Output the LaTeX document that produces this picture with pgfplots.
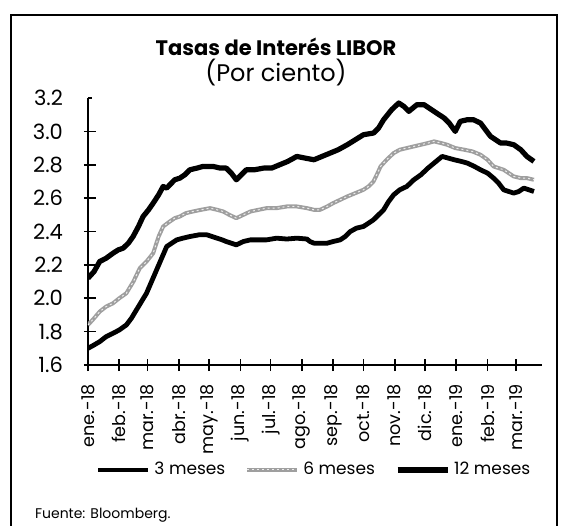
\documentclass[border=0pt]{standalone}
\usepackage{fontspec}
\setmainfont{Poppins}
\usepackage{pgfplots}
\pgfplotsset{compat=1.18}
\pgfplotstableread{
d v
0 2.12
6 2.16
11.6 2.22
18 2.24
24.8 2.27
30 2.29
34.8 2.30
40 2.33
44.7 2.37
50 2.43
54.6 2.49
60 2.53
64.6 2.57
70 2.62
74.5 2.67
78 2.66
81.1 2.68
86 2.71
91.1 2.72
96 2.74
101 2.77
108 2.78
114 2.79
124 2.79
131 2.78
137 2.78
142 2.75
147 2.71
152 2.74
157 2.77
165 2.77
174 2.78
182 2.78
190 2.80
198 2.82
207 2.85
215 2.84
224 2.83
232 2.85
240 2.87
248 2.89
257 2.92
265 2.95
273 2.98
283 2.99
288 3.02
293 3.07
297 3.10
301 3.13
308 3.17
313 3.15
318 3.12
322 3.14
326 3.16
333 3.16
338 3.14
343 3.12
348 3.10
353 3.08
358 3.05
364 3.00
369 3.06
376 3.07
382 3.07
389 3.05
394 3.01
399 2.97
404 2.95
409 2.93
415 2.93
422 2.92
429 2.89
435 2.85
442 2.82
}\twelve
\pgfplotstableread{
d v
0 1.84
6 1.88
11.6 1.92
18 1.95
24.8 1.97
31 2.00
38 2.03
45 2.10
51.3 2.18
58 2.22
64.6 2.27
70 2.37
74.5 2.43
81.1 2.46
86 2.48
91.1 2.49
97 2.51
104 2.52
112 2.53
121 2.54
128 2.53
134 2.52
140 2.50
147 2.48
154 2.50
161 2.52
169 2.53
177 2.54
187 2.54
197 2.55
207 2.55
217 2.54
224 2.53
230 2.53
237 2.55
243 2.57
250 2.59
257 2.61
265 2.63
273 2.65
278 2.67
283 2.70
287 2.75
290 2.79
296 2.83
303 2.87
309 2.89
316 2.90
323 2.91
330 2.92
337 2.93
343 2.94
350 2.93
356 2.92
364 2.90
373 2.89
381 2.88
389 2.86
396 2.83
402 2.79
407 2.78
412 2.77
417 2.75
422 2.73
429 2.72
435 2.72
442 2.71
}\six
\pgfplotstableread{
d v
0 1.70
6 1.72
11.6 1.74
18 1.77
24.8 1.79
31 1.81
38 1.84
43 1.88
48 1.93
53 1.98
58 2.03
63 2.10
68 2.17
73 2.24
78 2.31
83 2.33
88 2.35
94 2.36
101 2.37
110 2.38
118 2.38
123 2.37
128 2.36
133 2.35
137 2.34
142 2.33
147 2.32
154 2.34
161 2.35
169 2.35
177 2.35
187 2.36
197 2.355
207 2.36
217 2.355
220 2.34
224 2.33
230 2.33
237 2.33
243 2.34
250 2.35
255 2.37
260 2.40
266 2.42
273 2.43
278 2.45
283 2.47
288 2.50
293 2.53
298 2.58
303 2.62
309 2.65
316 2.67
323 2.71
330 2.74
337 2.78
343 2.81
347 2.83
351 2.85
357 2.84
363 2.83
370 2.82
376 2.81
383 2.79
389 2.77
396 2.75
402 2.72
407 2.69
412 2.65
417 2.64
422 2.63
427 2.64
432 2.66
437 2.65
442 2.64
}\three
\begin{document}
\begin{tikzpicture}[x=0.5pt,y=-0.5pt]
\path[use as bounding box] (0,0) rectangle (571,525);
\draw[line width=0.8pt] (11,530) -- (11,15) -- (557,15) -- (557,530);
\node[anchor=base, font=\bfseries\fontsize{10.5}{12}\selectfont] at (276,55) {Tasas de Interés LIBOR};
\node[anchor=base, font=\fontsize{12}{14}\selectfont] at (276,81) {(Por ciento)};
\node[anchor=base west, font=\fontsize{7}{8}\selectfont] at (28,518) {Fuente: Bloomberg.};
\begin{axis}[
  scale only axis, width=227pt, height=133.5pt,
  at={(44pt,-182.5pt)}, anchor=south west,
  xmin=0, xmax=450, ymin=1.6, ymax=3.2,
  axis x line*=bottom, axis y line*=left,
  axis line style={-, line width=0.8pt, black},
  tick style={line width=0.8pt, black},
  tick align=center, major tick length=6pt,
  y tick style={xshift=1pt, shorten <=2pt, shorten >=2pt},
  ytick={1.6,1.8,2.0,2.2,2.4,2.6,2.8,3.0,3.2},
  yticklabel style={/pgf/number format/fixed, /pgf/number format/precision=1, /pgf/number format/fixed zerofill, xshift=-6pt, font=\fontsize{10.5}{12}\selectfont},
  /pgf/number format/assume math mode=true,
  xtick={0,31,59,90,120,151,181,212,243,273,304,334,365,396,424},
  xticklabels={ene.-18,feb.-18,mar.-18,abr.-18,may.-18,jun.-18,jul.-18,ago.-18,sep.-18,oct.-18,nov.-18,dic.-18,ene.-19,feb.-19,mar.-19},
  xticklabel style={rotate=90, anchor=east, font=\fontsize{8.8}{10}\selectfont},
  xticklabel shift=3pt,
  legend style={at={(0.5,-0.393)}, anchor=center, draw=none, fill=none, legend columns=3,
     font=\fontsize{8.5}{10}\selectfont,
     /tikz/every even column/.append style={column sep=8pt}},
  legend image code/.code={\draw[#1] (0pt,0pt) -- (25pt,0pt);},
]
\addplot[black, line width=2.4pt, line join=round] table[x=d,y=v] {\three};
\addlegendentry{3 meses}
\addplot[gray!75, line width=2pt, line join=round, postaction={draw=white!85!gray, line width=0.5pt, dash pattern=on 1pt off 1.5pt}] table[x=d,y=v] {\six};
\addlegendentry{6 meses}
\addplot[black, line width=2.6pt, line join=round] table[x=d,y=v] {\twelve};
\addlegendentry{12 meses}
\end{axis}
\end{tikzpicture}
\end{document}
